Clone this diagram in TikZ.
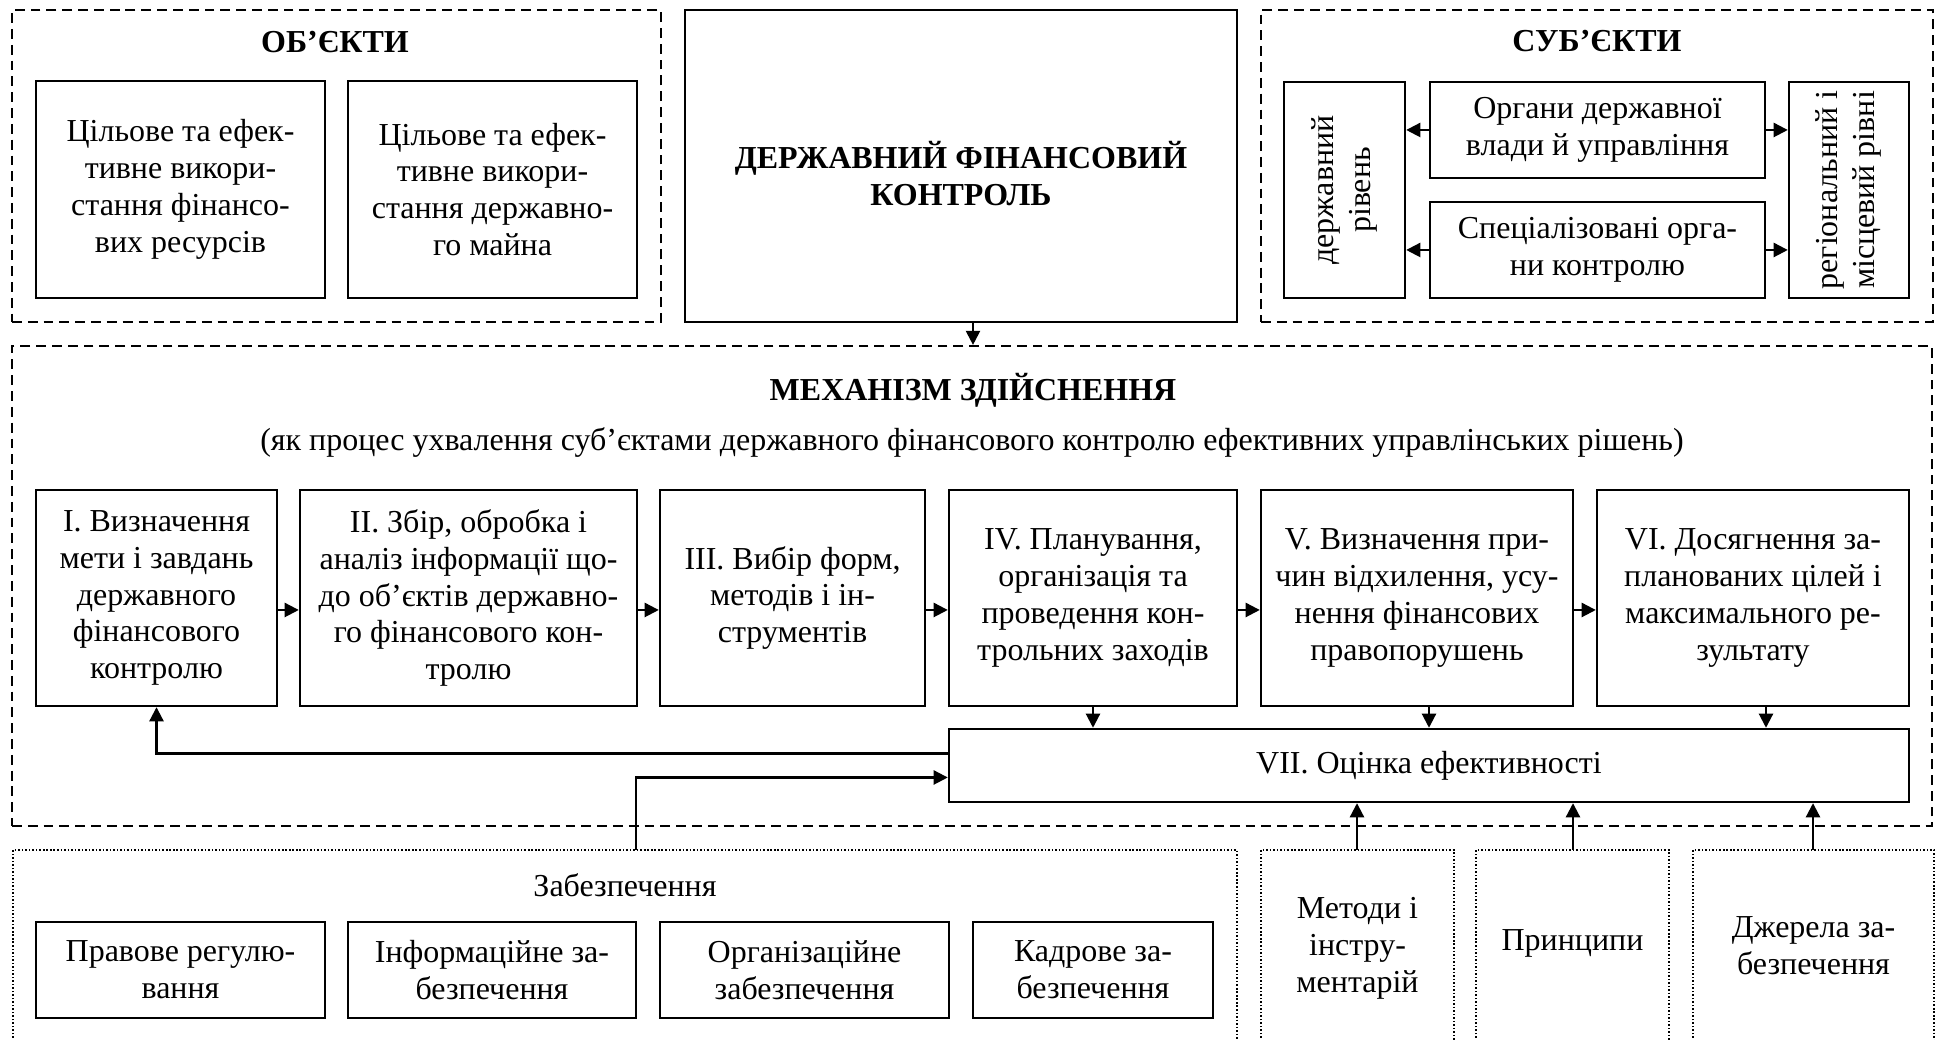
\documentclass[tikz,border=0pt]{standalone}
\usepackage{fontspec}
\setmainfont{Liberation Serif}
\usepackage{graphicx}
\usetikzlibrary{arrows.meta,positioning}
\tikzset{
  dashframe/.style={draw=black,line width=0.6pt,dash pattern=on 2.8pt off 1.7pt,inner sep=0pt},
  dotframe/.style={draw=black,line width=0.45pt,dash pattern=on 0.45pt off 0.55pt},
  card/.style={draw=black,line width=0.7pt,inner sep=0pt,align=center},
  headline/.style={font=\fontsize{9.1pt}{10.5pt}\selectfont\bfseries,align=center},
  flowarrow/.style={-{Triangle[length=4pt,width=4pt]},line width=0.6pt,draw=black}
}

\begin{document}
\begin{tikzpicture}[x=1cm,y=1cm,every node/.style={font=\fontsize{9.1pt}{10.5pt}\selectfont,align=center}]
  \useasboundingbox (0,0) rectangle (19.36,10.40);
  % objects, control, subjects
  \node[dashframe,minimum width=6.49cm,minimum height=3.12cm] (fobj) at (3.365,8.74) {};
  \node[dashframe,minimum width=6.72cm,minimum height=3.12cm] (fsub) at (15.97,8.74) {};
  \node[card,minimum width=5.52cm,minimum height=3.12cm,
    label={[headline,yshift=-0.08cm]center:ДЕРЖАВНИЙ ФІНАНСОВИЙ\\КОНТРОЛЬ}] (ctrl) at (9.61,8.74) {};
  \node[headline] (tobj) at (3.35,9.98) {ОБ’ЄКТИ};
  \node[headline] (tsub) at (15.97,9.99) {СУБ’ЄКТИ};
  \node[card,minimum width=2.89cm,minimum height=2.17cm] (o1) at (1.805,8.505) {Цільове та ефек-\\тивне викори-\\стання фінансо-\\вих ресурсів};
  \node[card,minimum width=2.89cm,minimum height=2.17cm] (o2) at (4.925,8.505) {Цільове та ефек-\\тивне викори-\\стання державно-\\го майна};
  \node[card,minimum width=1.21cm,minimum height=2.16cm] (sgov) at (13.445,8.50) {\rotatebox{90}{\begin{tabular}{@{}c@{}}державний\\рівень\end{tabular}}};
  \node[card,minimum width=3.35cm,minimum height=0.96cm] (sorg) at (15.975,9.10) {Органи державної\\влади й управління};
  \node[card,minimum width=3.35cm,minimum height=0.96cm] (sspec) at (15.975,7.90) {Спеціалізовані орга-\\ни контролю};
  \node[card,minimum width=1.20cm,minimum height=2.16cm] (sreg) at (18.49,8.50) {\rotatebox{90}{\begin{tabular}{@{}c@{}}регіональний і\\місцевий рівні\end{tabular}}};
  \foreach \b in {sorg,sspec}{
    \draw[flowarrow] (\b.west) -- (\b.west -| sgov.east);
    \draw[flowarrow] (\b.east) -- (\b.east -| sreg.west);
  }
  % mechanism
  \node[dashframe,minimum width=19.20cm,minimum height=4.80cm] (fmech) at (9.72,4.54) {};
  \draw[flowarrow] ([xshift=0.12cm]ctrl.south) -- ([xshift=0.12cm]ctrl.south |- fmech.north);
  \node[headline] (tmech) at (9.73,6.50) {МЕХАНІЗМ ЗДІЙСНЕННЯ};
  \node (tproc) at (9.72,5.97) {(як процес ухвалення суб’єктами державного фінансового контролю ефективних управлінських рішень)};
  \node[card,minimum width=2.41cm,minimum height=2.16cm] (s1) at (1.565,4.42) {I. Визначення\\мети і завдань\\державного\\фінансового\\контролю};
  \node[card,minimum width=3.37cm,minimum height=2.16cm] (s2) at (4.685,4.42) {II. Збір, обробка і\\аналіз інформації що-\\до об’єктів державно-\\го фінансового кон-\\тролю};
  \node[card,minimum width=2.65cm,minimum height=2.16cm] (s3) at (7.925,4.42) {III. Вибір форм,\\методів і ін-\\струментів};
  \node[card,minimum width=2.88cm,minimum height=2.16cm] (s4) at (10.93,4.42) {IV. Планування,\\організація та\\проведення кон-\\трольних заходів};
  \node[card,minimum width=3.12cm,minimum height=2.16cm] (s5) at (14.17,4.42) {V. Визначення при-\\чин відхилення, усу-\\нення фінансових\\правопорушень};
  \node[card,minimum width=3.12cm,minimum height=2.16cm] (s6) at (17.53,4.42) {VI. Досягнення за-\\планованих цілей і\\максимального ре-\\зультату};
  \node[card,minimum width=9.60cm,minimum height=0.73cm] (s7) at (14.29,2.745) {VII. Оцінка ефективності};
  \foreach \a/\b in {s1/s2,s2/s3,s3/s4,s4/s5,s5/s6}{
    \draw[flowarrow] ([yshift=-0.12cm]\a.east) -- ([yshift=-0.12cm]\b.west);
  }
  \foreach \s/\dx in {s4/0,s5/0.12,s6/0.13}{
    \draw[flowarrow] ([xshift=\dx cm]\s.south) -- ([xshift=\dx cm]\s.south |- s7.north);
  }
  \draw[flowarrow] ([yshift=0.12cm]s7.west) -| (s1.south);
  % support
  \draw[dotframe] (0.13,-0.05) |- (12.37,1.90) -- (12.37,-0.05);
  \draw[dotframe] (12.61,-0.05) |- (14.54,1.90) -- (14.54,-0.05);
  \draw[dotframe] (14.76,-0.05) |- (16.69,1.90) -- (16.69,-0.05);
  \draw[dotframe] (16.93,-0.05) |- (19.34,1.90) -- (19.34,-0.05);
  \node (tsup) at (6.25,1.55) {Забезпечення};
  \node[card,minimum width=2.89cm,minimum height=0.96cm] (b1) at (1.805,0.70) {Правове регулю-\\вання};
  \node[card,minimum width=2.88cm,minimum height=0.96cm] (b2) at (4.92,0.70) {Інформаційне за-\\безпечення};
  \node[card,minimum width=2.89cm,minimum height=0.96cm] (b3) at (8.045,0.70) {Організаційне\\забезпечення};
  \node[card,minimum width=2.40cm,minimum height=0.96cm] (b4) at (10.93,0.70) {Кадрове за-\\безпечення};
  \node (met) at (13.575,0.92) {Методи і\\інстру-\\ментарій};
  \node (pri) at (15.725,0.97) {Принципи};
  \node (src) at (18.135,0.94) {Джерела за-\\безпечення};
  \coordinate (supin) at (6.36,1.90);
  \coordinate (metin) at (13.57,1.90);
  \coordinate (priin) at (15.73,1.90);
  \coordinate (srcin) at (18.13,1.90);
  \draw[flowarrow] (supin) |- ([yshift=-0.12cm]s7.west);
  \foreach \c in {metin,priin,srcin}{
    \draw[flowarrow] (\c) -- (\c |- s7.south);
  }
\end{tikzpicture}
\end{document}
